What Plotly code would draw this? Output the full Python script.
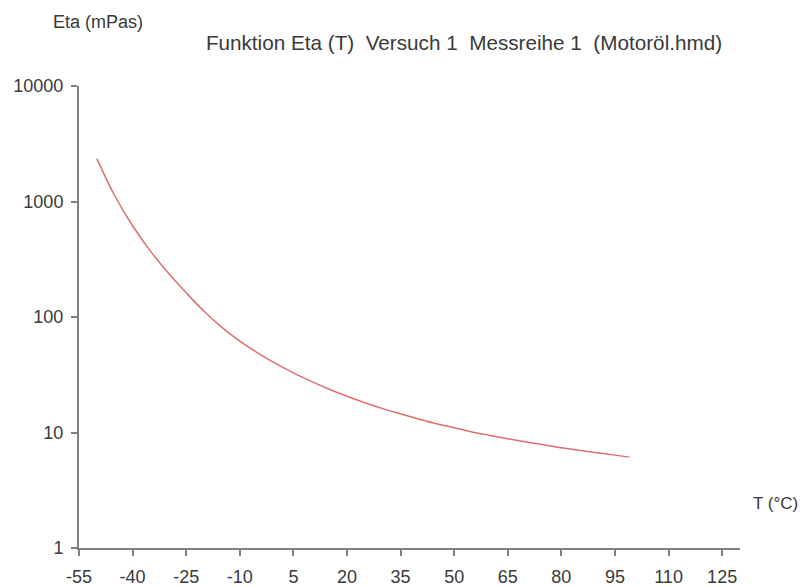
import plotly.graph_objects as go

# Temperature (°C) and viscosity Eta (mPas)
temperature = [-50, -45, -40, -35, -30, -25, -20, -15, -10, -5, 0, 5, 10, 15, 20, 25,
               30, 35, 40, 45, 50, 55, 60, 65, 70, 75, 80, 85, 90, 95, 99]
eta = [2350, 1122, 617, 372, 240, 162, 112, 81.3, 61.7, 49.0, 39.6, 32.8, 27.7, 23.7, 20.6, 18.1,
       16.1, 14.5, 13.1, 11.9, 11.0, 10.1, 9.44, 8.83, 8.30, 7.83, 7.38, 7.01, 6.68, 6.37, 6.12]

x_ticks = [-55, -40, -25, -10, 5, 20, 35, 50, 65, 80, 95, 110, 125]
y_ticks = [1, 10, 100, 1000, 10000]

title_text = "Funktion Eta (T)  Versuch 1  Messreihe 1  (Motoröl.hmd)"
y_label = "Eta (mPas)"
x_label = "T (°C)"

W, H = 803, 587
L, R, T, B = 79, 63, 86, 39
FONT = "Liberation Sans, Arial, sans-serif"
TXT = "#3a3a3a"
AX = "#808080"

fig = go.Figure()
fig.add_trace(go.Scatter(
    x=temperature, y=eta, mode="lines",
    line=dict(color="rgb(222,110,110)", width=1.5, shape="spline"),
    hoverinfo="x+y", showlegend=False,
))

pw, ph = W - L - R, H - T - B

fig.update_layout(
    width=W, height=H,
    margin=dict(l=L, r=R, t=T, b=B, autoexpand=False),
    paper_bgcolor="white", plot_bgcolor="white",
    font=dict(family=FONT, size=18, color=TXT),
    title=dict(text=title_text, x=464 / W, xanchor="center", xref="container",
               y=1 - 43 / H, yanchor="middle", yref="container",
               font=dict(family=FONT, size=20.7, color=TXT)),
    xaxis=dict(
        range=[-55, 130], tickmode="array", tickvals=x_ticks,
        ticktext=[str(v) for v in x_ticks],
        showgrid=False, zeroline=False, automargin=False,
        showline=True, linecolor=AX, linewidth=2,
        ticks="outside", ticklen=6, tickwidth=1.5, tickcolor=AX,
        tickfont=dict(family=FONT, size=18, color=TXT),
        ticklabelstandoff=5,
    ),
    yaxis=dict(
        type="log", range=[0, 4], tickmode="array", tickvals=y_ticks,
        ticktext=[str(v) for v in y_ticks],
        showgrid=False, zeroline=False, automargin=False,
        showline=True, linecolor=AX, linewidth=2,
        ticks="outside", ticklen=6, tickwidth=1.5, tickcolor=AX,
        tickfont=dict(family=FONT, size=18, color=TXT),
        ticklabelstandoff=4,
    ),
    annotations=[
        dict(text=y_label, x=(98 - L) / pw, y=(H - B - 22) / ph, xref="paper", yref="paper",
             showarrow=False, xanchor="center", yanchor="middle",
             font=dict(family=FONT, size=18, color=TXT)),
        dict(text=x_label, x=(775 - L) / pw, y=(H - B - 503) / ph, xref="paper", yref="paper",
             showarrow=False, xanchor="center", yanchor="middle",
             font=dict(family=FONT, size=17, color=TXT)),
    ],
)

fig.write_html(
    "out.html",
    config={"displayModeBar": False},
    post_script="document.body.style.margin='0';document.body.style.padding='0';",
)
